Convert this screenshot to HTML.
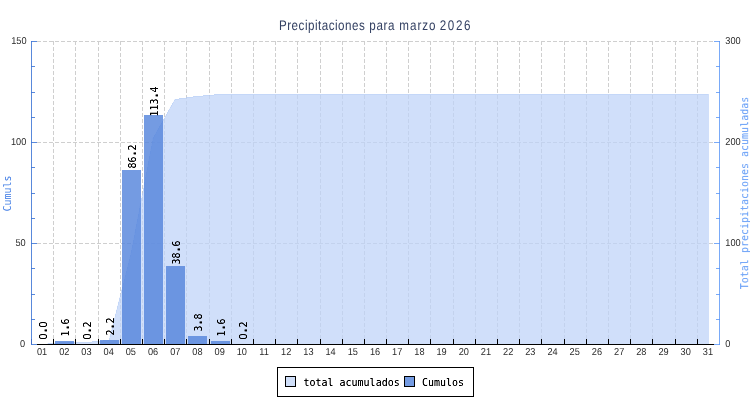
<!DOCTYPE html>
<html lang="es">
<head>
<meta charset="utf-8">
<title>Precipitaciones para marzo 2026</title>
<style>
html,body{margin:0;padding:0;background:#fff;}
body{width:750px;height:400px;overflow:hidden;}
svg{display:block;}
</style>
</head>
<body>
<svg width="750" height="400" viewBox="0 0 750 400">
<rect width="750" height="400" fill="#fff"/>
<defs><filter id="crisp" x="-5%" y="-5%" width="110%" height="110%" color-interpolation-filters="sRGB"><feComponentTransfer><feFuncA type="linear" slope="1.35" intercept="-0.05"/></feComponentTransfer></filter><filter id="crisp2" x="-5%" y="-5%" width="110%" height="110%" color-interpolation-filters="sRGB"><feComponentTransfer><feFuncA type="linear" slope="1.3" intercept="-0.04"/></feComponentTransfer></filter></defs>
<g shape-rendering="crispEdges" stroke="#cfcfcf" stroke-width="1" stroke-dasharray="4 2" fill="none">
<line x1="31" y1="41.5" x2="719" y2="41.5"/>
<line x1="31" y1="142.5" x2="719" y2="142.5"/>
<line x1="31" y1="243.5" x2="719" y2="243.5"/>
<line x1="53.5" y1="41" x2="53.5" y2="344"/>
<line x1="75.5" y1="41" x2="75.5" y2="344"/>
<line x1="98.5" y1="41" x2="98.5" y2="344"/>
<line x1="120.5" y1="41" x2="120.5" y2="344"/>
<line x1="142.5" y1="41" x2="142.5" y2="344"/>
<line x1="164.5" y1="41" x2="164.5" y2="344"/>
<line x1="186.5" y1="41" x2="186.5" y2="344"/>
<line x1="209.5" y1="41" x2="209.5" y2="344"/>
<line x1="231.5" y1="41" x2="231.5" y2="344"/>
<line x1="253.5" y1="41" x2="253.5" y2="344"/>
<line x1="275.5" y1="41" x2="275.5" y2="344"/>
<line x1="297.5" y1="41" x2="297.5" y2="344"/>
<line x1="320.5" y1="41" x2="320.5" y2="344"/>
<line x1="342.5" y1="41" x2="342.5" y2="344"/>
<line x1="364.5" y1="41" x2="364.5" y2="344"/>
<line x1="386.5" y1="41" x2="386.5" y2="344"/>
<line x1="408.5" y1="41" x2="408.5" y2="344"/>
<line x1="430.5" y1="41" x2="430.5" y2="344"/>
<line x1="453.5" y1="41" x2="453.5" y2="344"/>
<line x1="475.5" y1="41" x2="475.5" y2="344"/>
<line x1="497.5" y1="41" x2="497.5" y2="344"/>
<line x1="519.5" y1="41" x2="519.5" y2="344"/>
<line x1="541.5" y1="41" x2="541.5" y2="344"/>
<line x1="564.5" y1="41" x2="564.5" y2="344"/>
<line x1="586.5" y1="41" x2="586.5" y2="344"/>
<line x1="608.5" y1="41" x2="608.5" y2="344"/>
<line x1="630.5" y1="41" x2="630.5" y2="344"/>
<line x1="652.5" y1="41" x2="652.5" y2="344"/>
<line x1="675.5" y1="41" x2="675.5" y2="344"/>
<line x1="697.5" y1="41" x2="697.5" y2="344"/>
</g>
<path d="M42.00,344 L42.00,344.00 L64.00,342.00 L86.00,342.00 L109.00,340.00 L131.00,253.00 L153.00,138.00 L175.00,99.00 L197.00,96.00 L220.00,94.00 L242.00,94.00 L264.00,94.00 L286.00,94.00 L308.00,94.00 L331.00,94.00 L353.00,94.00 L375.00,94.00 L397.00,94.00 L419.00,94.00 L442.00,94.00 L464.00,94.00 L486.00,94.00 L508.00,94.00 L530.00,94.00 L553.00,94.00 L575.00,94.00 L597.00,94.00 L619.00,94.00 L641.00,94.00 L664.00,94.00 L686.00,94.00 L708.00,94.00 L709.00,94.00 L709.00,344 Z" fill="#bed3f8" fill-opacity="0.72" shape-rendering="crispEdges"/>
<path d="M42.00,344.50 L64.00,342.50 L86.00,342.50 L109.00,340.50 L131.00,253.50 L153.00,138.50 L175.00,99.50 L197.00,96.50 L220.00,94.50 L242.00,94.50 L264.00,94.50 L286.00,94.50 L308.00,94.50 L331.00,94.50 L353.00,94.50 L375.00,94.50 L397.00,94.50 L419.00,94.50 L442.00,94.50 L464.00,94.50 L486.00,94.50 L508.00,94.50 L530.00,94.50 L553.00,94.50 L575.00,94.50 L597.00,94.50 L619.00,94.50 L641.00,94.50 L664.00,94.50 L686.00,94.50 L708.00,94.50" fill="none" stroke="#6495ed" stroke-opacity="0.1" stroke-width="1" shape-rendering="crispEdges"/>
<g shape-rendering="crispEdges" fill="#5182db" fill-opacity="0.8">
<rect x="55" y="341" width="19" height="3"/>
<rect x="77" y="344" width="19" height="0"/>
<rect x="100" y="340" width="19" height="4"/>
<rect x="122" y="170" width="19" height="174"/>
<rect x="144" y="115" width="19" height="229"/>
<rect x="166" y="266" width="19" height="78"/>
<rect x="188" y="336" width="19" height="8"/>
<rect x="211" y="341" width="19" height="3"/>
<rect x="233" y="344" width="19" height="0"/>
</g>
<g shape-rendering="crispEdges" fill="#000">
<rect x="31" y="344" width="688" height="1"/>
<rect x="53" y="339" width="1" height="5"/>
<rect x="75" y="339" width="1" height="5"/>
<rect x="98" y="339" width="1" height="5"/>
<rect x="120" y="339" width="1" height="5"/>
<rect x="142" y="339" width="1" height="5"/>
<rect x="164" y="339" width="1" height="5"/>
<rect x="186" y="339" width="1" height="5"/>
<rect x="209" y="339" width="1" height="5"/>
<rect x="231" y="339" width="1" height="5"/>
<rect x="253" y="339" width="1" height="5"/>
<rect x="275" y="339" width="1" height="5"/>
<rect x="297" y="339" width="1" height="5"/>
<rect x="320" y="339" width="1" height="5"/>
<rect x="342" y="339" width="1" height="5"/>
<rect x="364" y="339" width="1" height="5"/>
<rect x="386" y="339" width="1" height="5"/>
<rect x="408" y="339" width="1" height="5"/>
<rect x="430" y="339" width="1" height="5"/>
<rect x="453" y="339" width="1" height="5"/>
<rect x="475" y="339" width="1" height="5"/>
<rect x="497" y="339" width="1" height="5"/>
<rect x="519" y="339" width="1" height="5"/>
<rect x="541" y="339" width="1" height="5"/>
<rect x="564" y="339" width="1" height="5"/>
<rect x="586" y="339" width="1" height="5"/>
<rect x="608" y="339" width="1" height="5"/>
<rect x="630" y="339" width="1" height="5"/>
<rect x="652" y="339" width="1" height="5"/>
<rect x="675" y="339" width="1" height="5"/>
<rect x="697" y="339" width="1" height="5"/>
</g>
<g shape-rendering="crispEdges" fill="#5989db">
<rect x="31" y="41" width="1" height="304"/>
<rect x="31" y="41" width="6" height="1"/>
<rect x="31" y="41" width="1" height="1" fill="#4377d4"/>
<rect x="31" y="66" width="4" height="1"/>
<rect x="31" y="66" width="1" height="1" fill="#4377d4"/>
<rect x="31" y="92" width="4" height="1"/>
<rect x="31" y="92" width="1" height="1" fill="#4377d4"/>
<rect x="31" y="117" width="4" height="1"/>
<rect x="31" y="117" width="1" height="1" fill="#4377d4"/>
<rect x="31" y="142" width="6" height="1"/>
<rect x="31" y="142" width="1" height="1" fill="#4377d4"/>
<rect x="31" y="167" width="4" height="1"/>
<rect x="31" y="167" width="1" height="1" fill="#4377d4"/>
<rect x="31" y="193" width="4" height="1"/>
<rect x="31" y="193" width="1" height="1" fill="#4377d4"/>
<rect x="31" y="218" width="4" height="1"/>
<rect x="31" y="218" width="1" height="1" fill="#4377d4"/>
<rect x="31" y="243" width="6" height="1"/>
<rect x="31" y="243" width="1" height="1" fill="#4377d4"/>
<rect x="31" y="268" width="4" height="1"/>
<rect x="31" y="268" width="1" height="1" fill="#4377d4"/>
<rect x="31" y="294" width="4" height="1"/>
<rect x="31" y="294" width="1" height="1" fill="#4377d4"/>
<rect x="31" y="319" width="4" height="1"/>
<rect x="31" y="319" width="1" height="1" fill="#4377d4"/>
<rect x="31" y="344" width="6" height="1"/>
<rect x="31" y="344" width="1" height="1" fill="#4377d4"/>
<rect x="31" y="339" width="1" height="5" fill="#3f6dc6"/>
</g>
<g shape-rendering="crispEdges" fill="#79aaf8">
<rect x="719" y="41" width="1" height="304"/>
<rect x="714" y="41" width="6" height="1"/>
<rect x="719" y="41" width="1" height="1" fill="#6196f2"/>
<rect x="716" y="66" width="4" height="1"/>
<rect x="719" y="66" width="1" height="1" fill="#6196f2"/>
<rect x="716" y="92" width="4" height="1"/>
<rect x="719" y="92" width="1" height="1" fill="#6196f2"/>
<rect x="716" y="117" width="4" height="1"/>
<rect x="719" y="117" width="1" height="1" fill="#6196f2"/>
<rect x="714" y="142" width="6" height="1"/>
<rect x="719" y="142" width="1" height="1" fill="#6196f2"/>
<rect x="716" y="167" width="4" height="1"/>
<rect x="719" y="167" width="1" height="1" fill="#6196f2"/>
<rect x="716" y="193" width="4" height="1"/>
<rect x="719" y="193" width="1" height="1" fill="#6196f2"/>
<rect x="716" y="218" width="4" height="1"/>
<rect x="719" y="218" width="1" height="1" fill="#6196f2"/>
<rect x="714" y="243" width="6" height="1"/>
<rect x="719" y="243" width="1" height="1" fill="#6196f2"/>
<rect x="716" y="268" width="4" height="1"/>
<rect x="719" y="268" width="1" height="1" fill="#6196f2"/>
<rect x="716" y="294" width="4" height="1"/>
<rect x="719" y="294" width="1" height="1" fill="#6196f2"/>
<rect x="716" y="319" width="4" height="1"/>
<rect x="719" y="319" width="1" height="1" fill="#6196f2"/>
<rect x="714" y="344" width="6" height="1"/>
<rect x="719" y="344" width="1" height="1" fill="#6196f2"/>
</g>
<g font-family='"Liberation Sans", "DejaVu Sans", sans-serif' font-size="10" fill="#2a2a2a" text-rendering="geometricPrecision">
<text transform="translate(26.5,44) scale(0.92,1)" text-anchor="end">150</text>
<text transform="translate(26.3,145) scale(0.92,1)" text-anchor="end">100</text>
<text transform="translate(25.7,246) scale(0.92,1)" text-anchor="end">50</text>
<text transform="translate(25.2,347) scale(0.92,1)" text-anchor="end">0</text>
<text transform="translate(725.3,44) scale(0.92,1)">300</text>
<text transform="translate(725.3,145) scale(0.92,1)">200</text>
<text transform="translate(725.3,246) scale(0.92,1)">100</text>
<text transform="translate(725.3,347) scale(0.92,1)">0</text>
<text transform="translate(42.097,355) scale(0.92,1)" text-anchor="middle">01</text>
<text transform="translate(64.29,355) scale(0.92,1)" text-anchor="middle">02</text>
<text transform="translate(86.484,355) scale(0.92,1)" text-anchor="middle">03</text>
<text transform="translate(108.677,355) scale(0.92,1)" text-anchor="middle">04</text>
<text transform="translate(130.871,355) scale(0.92,1)" text-anchor="middle">05</text>
<text transform="translate(153.065,355) scale(0.92,1)" text-anchor="middle">06</text>
<text transform="translate(175.258,355) scale(0.92,1)" text-anchor="middle">07</text>
<text transform="translate(197.452,355) scale(0.92,1)" text-anchor="middle">08</text>
<text transform="translate(219.645,355) scale(0.92,1)" text-anchor="middle">09</text>
<text transform="translate(241.839,355) scale(0.92,1)" text-anchor="middle">10</text>
<text transform="translate(264.032,355) scale(0.92,1)" text-anchor="middle">11</text>
<text transform="translate(286.226,355) scale(0.92,1)" text-anchor="middle">12</text>
<text transform="translate(308.419,355) scale(0.92,1)" text-anchor="middle">13</text>
<text transform="translate(330.613,355) scale(0.92,1)" text-anchor="middle">14</text>
<text transform="translate(352.806,355) scale(0.92,1)" text-anchor="middle">15</text>
<text transform="translate(375,355) scale(0.92,1)" text-anchor="middle">16</text>
<text transform="translate(397.194,355) scale(0.92,1)" text-anchor="middle">17</text>
<text transform="translate(419.387,355) scale(0.92,1)" text-anchor="middle">18</text>
<text transform="translate(441.581,355) scale(0.92,1)" text-anchor="middle">19</text>
<text transform="translate(463.774,355) scale(0.92,1)" text-anchor="middle">20</text>
<text transform="translate(485.968,355) scale(0.92,1)" text-anchor="middle">21</text>
<text transform="translate(508.161,355) scale(0.92,1)" text-anchor="middle">22</text>
<text transform="translate(530.355,355) scale(0.92,1)" text-anchor="middle">23</text>
<text transform="translate(552.548,355) scale(0.92,1)" text-anchor="middle">24</text>
<text transform="translate(574.742,355) scale(0.92,1)" text-anchor="middle">25</text>
<text transform="translate(596.935,355) scale(0.92,1)" text-anchor="middle">26</text>
<text transform="translate(619.129,355) scale(0.92,1)" text-anchor="middle">27</text>
<text transform="translate(641.323,355) scale(0.92,1)" text-anchor="middle">28</text>
<text transform="translate(663.516,355) scale(0.92,1)" text-anchor="middle">29</text>
<text transform="translate(685.71,355) scale(0.92,1)" text-anchor="middle">30</text>
<text transform="translate(707.903,355) scale(0.92,1)" text-anchor="middle">31</text>
</g>
<g font-family='"DejaVu Sans Mono", "Liberation Mono", monospace' font-size="10" fill="#000" filter="url(#crisp)">
<text transform="translate(47,330.4) rotate(-90) scale(1,1.08)" x="-9.03 -4.56 3.01"><tspan font-family='"Liberation Sans", "DejaVu Sans", sans-serif' font-size="10.8">0</tspan><tspan font-size="15.2">.</tspan><tspan font-family='"Liberation Sans", "DejaVu Sans", sans-serif' font-size="10.8">0</tspan></text>
<text transform="translate(69,327.4) rotate(-90) scale(1,1.08)" x="-9.03 -4.56 3.01">1<tspan font-size="15.2">.</tspan>6</text>
<text transform="translate(91,330.4) rotate(-90) scale(1,1.08)" x="-9.03 -4.56 3.01"><tspan font-family='"Liberation Sans", "DejaVu Sans", sans-serif' font-size="10.8">0</tspan><tspan font-size="15.2">.</tspan>2</text>
<text transform="translate(114,326.4) rotate(-90) scale(1,1.08)" x="-9.03 -4.56 3.01">2<tspan font-size="15.2">.</tspan>2</text>
<text transform="translate(136,156.4) rotate(-90) scale(1,1.08)" x="-12.04 -6.02 -1.55 6.02">86<tspan font-size="15.2">.</tspan>2</text>
<text transform="translate(158,101.4) rotate(-90) scale(1,1.08)" x="-15.05 -9.03 -3.01 1.46 9.03">113<tspan font-size="15.2">.</tspan>4</text>
<text transform="translate(180,252.4) rotate(-90) scale(1,1.08)" x="-12.04 -6.02 -1.55 6.02">38<tspan font-size="15.2">.</tspan>6</text>
<text transform="translate(202,322.4) rotate(-90) scale(1,1.08)" x="-9.03 -4.56 3.01">3<tspan font-size="15.2">.</tspan>8</text>
<text transform="translate(225,327.4) rotate(-90) scale(1,1.08)" x="-9.03 -4.56 3.01">1<tspan font-size="15.2">.</tspan>6</text>
<text transform="translate(247,330.4) rotate(-90) scale(1,1.08)" x="-9.03 -4.56 3.01"><tspan font-family='"Liberation Sans", "DejaVu Sans", sans-serif' font-size="10.8">0</tspan><tspan font-size="15.2">.</tspan>2</text>
</g>
<g font-family='"DejaVu Sans Mono", "Liberation Mono", monospace' font-size="10" filter="url(#crisp2)">
<text transform="translate(11,193.5) rotate(-90) scale(1,1.08)" text-anchor="middle" fill="#6193ea">Cumuls</text>
<text transform="translate(748,193) rotate(-90) scale(1,1.08)" text-anchor="middle" fill="#77a9f8">Total precipitaciones acumuladas</text>
</g>
<text font-family='"Liberation Sans", "DejaVu Sans", sans-serif' font-size="14" fill="#334062" text-rendering="geometricPrecision" transform="translate(0,30) scale(0.83,1)"><tspan x="336.145" letter-spacing="0.6">Precipitaciones</tspan> <tspan x="444.94" letter-spacing="0.75">para</tspan> <tspan x="481.084" letter-spacing="1.2">marzo</tspan> <tspan x="529.759" letter-spacing="2.0">2026</tspan></text>
<g shape-rendering="crispEdges">
<rect x="277.5" y="367.5" width="196" height="29" fill="#fff" stroke="#000"/>
<rect x="285.5" y="376.5" width="10" height="10" fill="#d0dff9" stroke="#000"/>
<rect x="404.5" y="376.5" width="10" height="10" fill="#749be2" stroke="#000"/>
</g>
<g font-family='"DejaVu Sans Mono", "Liberation Mono", monospace' font-size="10" fill="#000" filter="url(#crisp)">
<text transform="translate(303.5,386) scale(1,1.08)">total acumulados</text>
<text transform="translate(422,386) scale(1,1.08)">Cumulos</text>
</g>
</svg>
</body>
</html>
